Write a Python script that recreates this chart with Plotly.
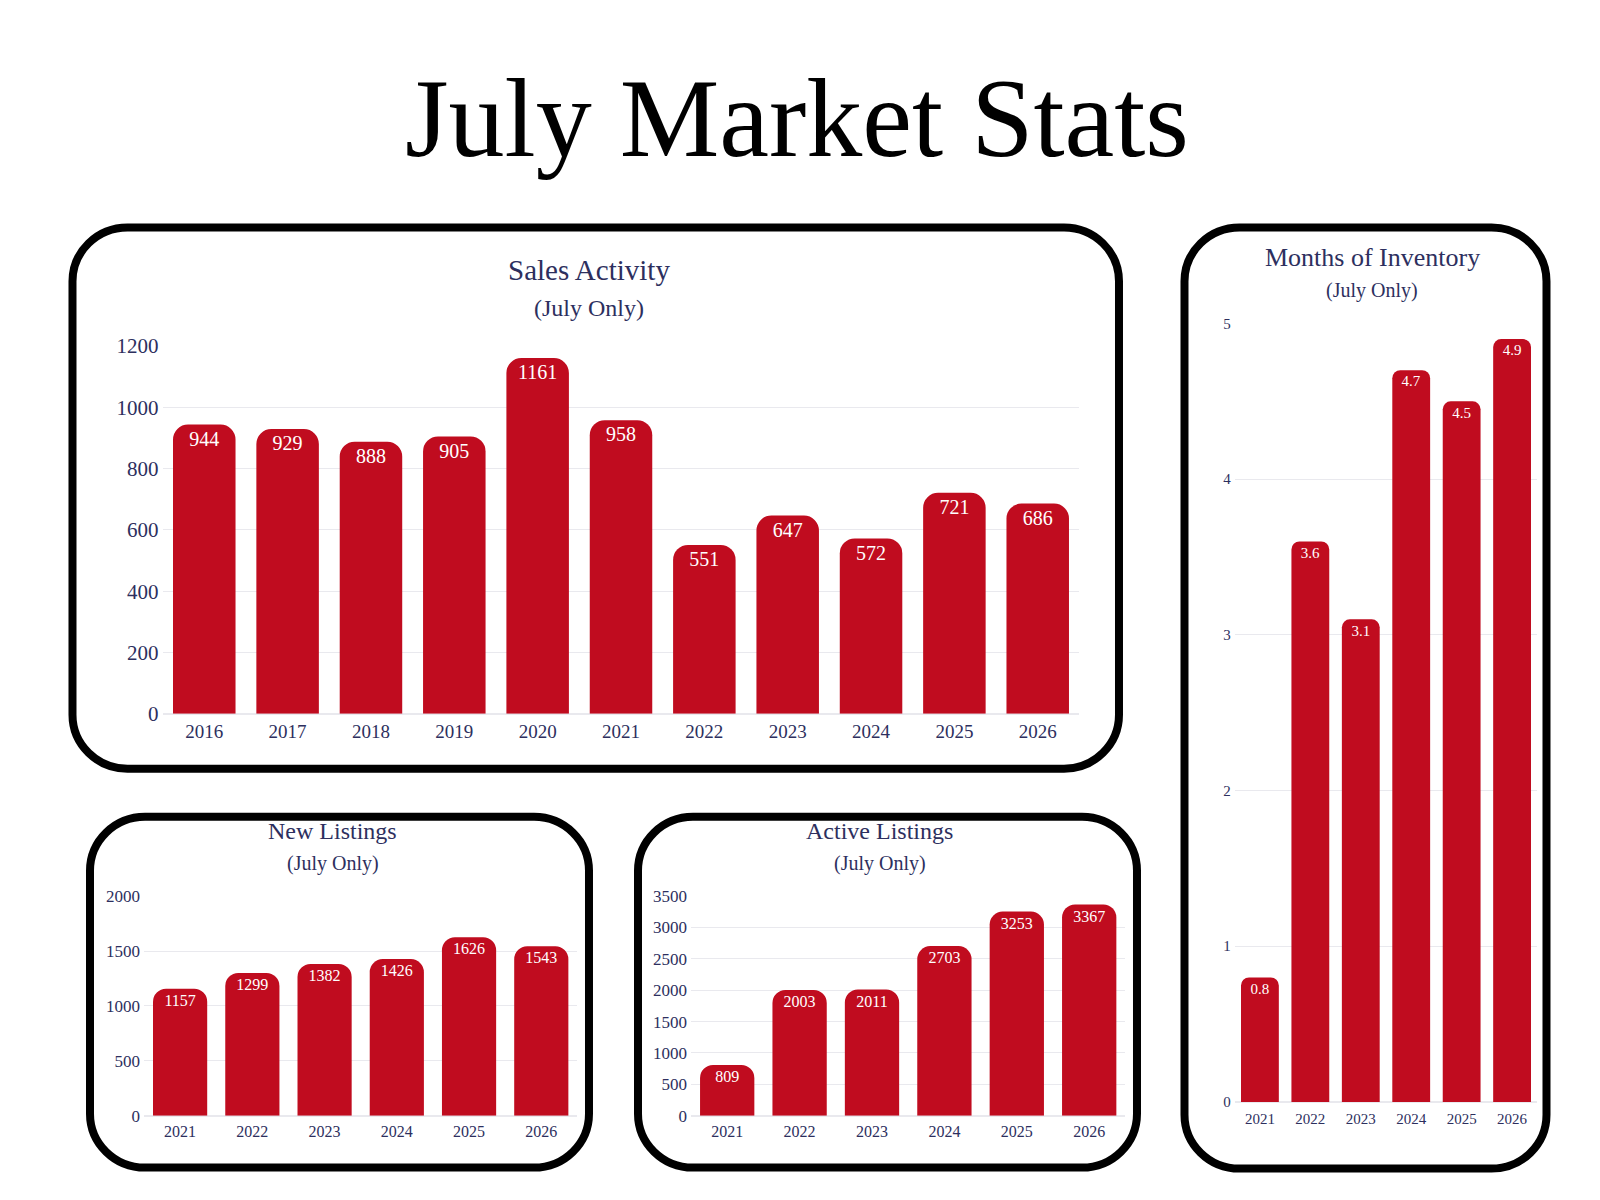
import plotly.graph_objects as go

W, H = 1600, 1200

sales_years = ["2016", "2017", "2018", "2019", "2020", "2021", "2022", "2023", "2024", "2025", "2026"]
sales_values = [944, 929, 888, 905, 1161, 958, 551, 647, 572, 721, 686]

listing_years = ["2021", "2022", "2023", "2024", "2025", "2026"]
new_listings = [1157, 1299, 1382, 1426, 1626, 1543]
active_listings = [809, 2003, 2011, 2703, 3253, 3367]
months_inventory = [0.8, 3.6, 3.1, 4.7, 4.5, 4.9]

RED = "#c00c1f"
NAVY = "#2d2f5e"
GRID = "#e9e9ee"
FONT = "Liberation Serif"


def fx(x):
    return x / W


def fy(y):
    return 1 - y / H


def rounded_box(x0, y0, x1, y1, r):
    # rounded rectangle drawn in pixels, converted to paper coords
    k = 0.5523 * r
    p = lambda x, y: "{:.5f},{:.5f}".format(fx(x), fy(y))
    return ("M " + p(x0 + r, y0) +
            " L " + p(x1 - r, y0) +
            " C " + p(x1 - r + k, y0) + " " + p(x1, y0 + r - k) + " " + p(x1, y0 + r) +
            " L " + p(x1, y1 - r) +
            " C " + p(x1, y1 - r + k) + " " + p(x1 - r + k, y1) + " " + p(x1 - r, y1) +
            " L " + p(x0 + r, y1) +
            " C " + p(x0 + r - k, y1) + " " + p(x0, y1 - r + k) + " " + p(x0, y1 - r) +
            " L " + p(x0, y0 + r) +
            " C " + p(x0, y0 + r - k) + " " + p(x0 + r - k, y0) + " " + p(x0 + r, y0) + " Z")


fig = go.Figure()

charts = [
    # x values, y values, axis id, text size, corner radius, label format
    (sales_years, sales_values, "", 20, 15, "%{y}"),
    (listing_years, new_listings, "2", 16, 13, "%{y}"),
    (listing_years, active_listings, "3", 16, 13, "%{y}"),
    (listing_years, months_inventory, "4", 15, 8, "%{y:.1f}"),
]

for xs, ys, ax, size, radius, fmt in charts:
    fig.add_trace(go.Bar(
        x=xs,
        y=ys,
        xaxis="x" + ax,
        yaxis="y" + ax,
        marker=dict(color=RED, cornerradius=radius, line=dict(width=0)),
        texttemplate=fmt,
        textposition="inside",
        insidetextanchor="end",
        textangle=0,
        textfont=dict(family=FONT, size=size, color="white"),
        hoverinfo="x+y",
        showlegend=False,
    ))

# domains in pixels: (left, right, top, bottom)
domains = {
    "": (154.6, 1071.4, 332.7, 707.9),
    "2": (136, 569.4, 894, 1118),
    "3": (683, 1117.4, 894, 1118),
    "4": (1226.7, 1529.3, 309.7, 1104),
}
# range, dtick, x tick size, y tick size, x standoff
ranges = {"": ([0, 1200], 200, 19, 21, 4), "2": ([0, 2000], 500, 16, 17, 4),
          "3": ([0, 3500], 500, 16, 17, 4), "4": ([0, 5], 1, 15, 15, 6)}

layout = dict(
    width=W, height=H,
    margin=dict(l=0, r=0, t=0, b=0),
    paper_bgcolor="white",
    plot_bgcolor="white",
    bargap=0.25,
    font=dict(family=FONT, color=NAVY),
)

for ax, (l, r, t, b) in domains.items():
    yr, dt, xs, ys, xso = ranges[ax]
    layout["xaxis" + ax] = dict(
        domain=[fx(l), fx(r)], anchor="y" + ax, type="category",
        showgrid=False, showline=False, ticks="", ticklabelstandoff=xso,
        tickfont=dict(family=FONT, size=xs, color=NAVY),
    )
    layout["yaxis" + ax] = dict(
        domain=[fy(b), fy(t)], anchor="x" + ax, range=yr, dtick=dt,
        showgrid=True, gridcolor=GRID, gridwidth=1,
        zeroline=True, zerolinecolor=GRID, showline=False, ticks="",
        ticklabelstandoff=3,
        tickfont=dict(family=FONT, size=ys, color=NAVY),
    )

fig.update_layout(**layout)

# outlined panels
panels = [(64.5, 211.7, 1111, 764), (1176.5, 211.7, 1538.5, 1172),
          (82, 813, 581, 1171), (630, 813, 1129, 1171)]
for x0, y0, x1, y1 in panels:
    fig.add_shape(type="path", path=rounded_box(x0, y0, x1, y1, 55),
                  xref="paper", yref="paper", layer="below",
                  line=dict(color="black", width=8), fillcolor="rgba(0,0,0,0)")

titles = [
    ("Sales Activity", 580.8, 254.7, 29, 293.7, 24),
    ("Months of Inventory", 1364.4, 242.7, 26, 275.7, 20),
    ("New Listings", 324.6, 828, 24, 861, 20),
    ("Active Listings", 871.6, 828, 24, 861, 20),
]
for text, cx, ty, tsize, sy, ssize in titles:
    fig.add_annotation(text=text, x=fx(cx), y=fy(ty), xref="paper", yref="paper",
                       showarrow=False, xanchor="center", yanchor="middle",
                       font=dict(family=FONT, size=tsize, color=NAVY))
    fig.add_annotation(text="(July Only)", x=fx(cx), y=fy(sy), xref="paper", yref="paper",
                       showarrow=False, xanchor="center", yanchor="middle",
                       font=dict(family=FONT, size=ssize, color=NAVY))

fig.add_annotation(text="July Market Stats", x=fx(789.4), y=fy(99.7), xref="paper", yref="paper",
                   showarrow=False, xanchor="center", yanchor="middle",
                   font=dict(family=FONT, size=112, color="black"))

fig.write_html("out.html")
